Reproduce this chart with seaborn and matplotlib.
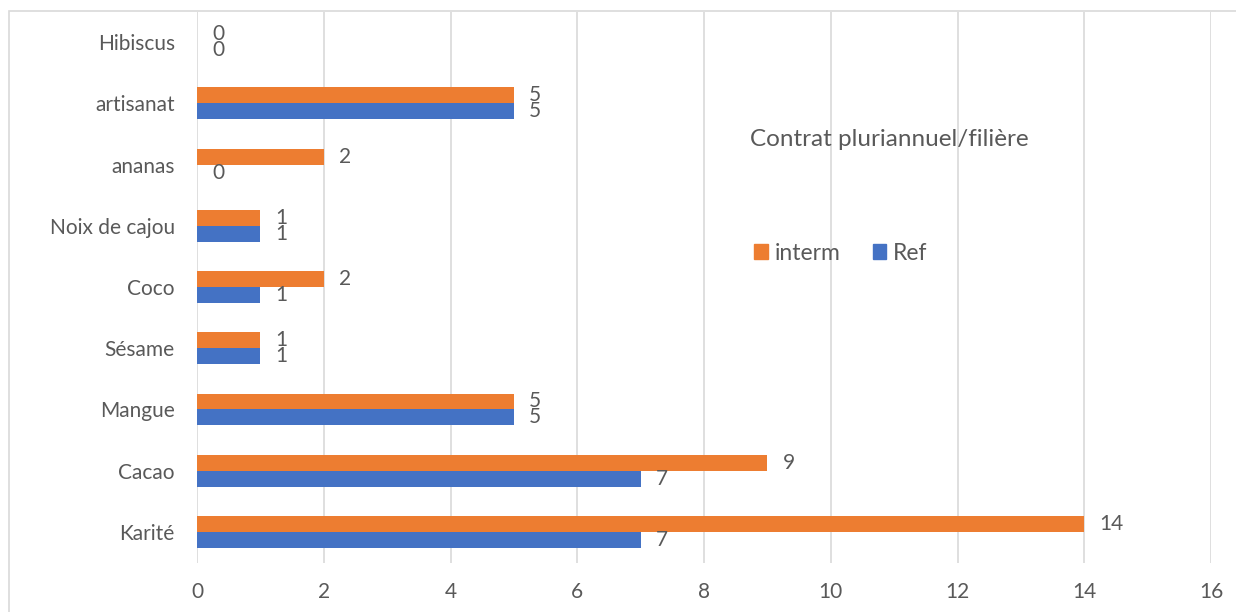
import matplotlib
matplotlib.use("Agg")
import matplotlib.pyplot as plt
import seaborn as sns
import pandas as pd
from matplotlib.patches import Rectangle

# data (top to bottom)
categories = ["Hibiscus", "artisanat", "ananas", "Noix de cajou", "Coco",
              "Sésame", "Mangue", "Cacao", "Karité"]
interm = [0, 5, 2, 1, 2, 1, 5, 9, 14]
ref = [0, 5, 0, 1, 1, 1, 5, 7, 7]
series = ["interm", "Ref"]
colors = {"interm": "#ED7D31", "Ref": "#4472C4"}

df = pd.DataFrame({
    "filiere": categories * 2,
    "valeur": interm + ref,
    "serie": ["interm"] * len(categories) + ["Ref"] * len(categories),
})

sns.set_style("white")
plt.rcParams["font.family"] = ["Lato", "DejaVu Sans"]
text_col = "#595959"

fig = plt.figure(figsize=(12.36, 6.12), dpi=100)
ax = fig.add_axes([197 / 1236, 1 - 562.5 / 612, (1211 - 197) / 1236, 551 / 612])

sns.barplot(data=df, x="valeur", y="filiere", hue="serie", order=categories,
            hue_order=series, palette=colors, orient="h", width=0.52,
            gap=0, linewidth=0, saturation=1, ax=ax, legend=False)

for cont in ax.containers:
    ax.bar_label(cont, fmt="%g", padding=11, fontsize=15, color=text_col)

ax.set_xlim(0, 16)
ax.set_xticks(range(0, 17, 2))
ax.set_ylim(len(categories) - 0.5, -0.5)
ax.grid(axis="x", color="#D9D9D9", linewidth=1.2)
ax.set_axisbelow(True)
for s in ax.spines.values():
    s.set_visible(False)
ax.tick_params(axis="both", length=0, labelsize=15, labelcolor=text_col)
ax.tick_params(axis="y", pad=16)
ax.tick_params(axis="x", pad=14)
ax.set_xlabel("")
ax.set_ylabel("")

# title and legend sitting inside the plot area
fig.text(889 / 1236, 1 - 140 / 612, "Contrat pluriannuel/filière",
         ha="center", va="center", fontsize=17.5, color=text_col)
handles = [Rectangle((0, 0), 1, 1, color=colors[s]) for s in series]
fig.legend(handles, series, loc="center", bbox_to_anchor=(841 / 1236, 1 - 253 / 612),
           ncol=2, frameon=False, fontsize=16.5, labelcolor=text_col,
           handlelength=0.6, handleheight=0.6, handletextpad=0.3, columnspacing=1.4)

# outer chart frame (cut off at right and bottom)
fig.patches.append(Rectangle((9 / 1236, -0.05), 1.1, 1 - 11 / 612 + 0.05,
                             transform=fig.transFigure, fill=False,
                             edgecolor="#D9D9D9", linewidth=1.2))

fig.savefig("out.png", dpi=100)
